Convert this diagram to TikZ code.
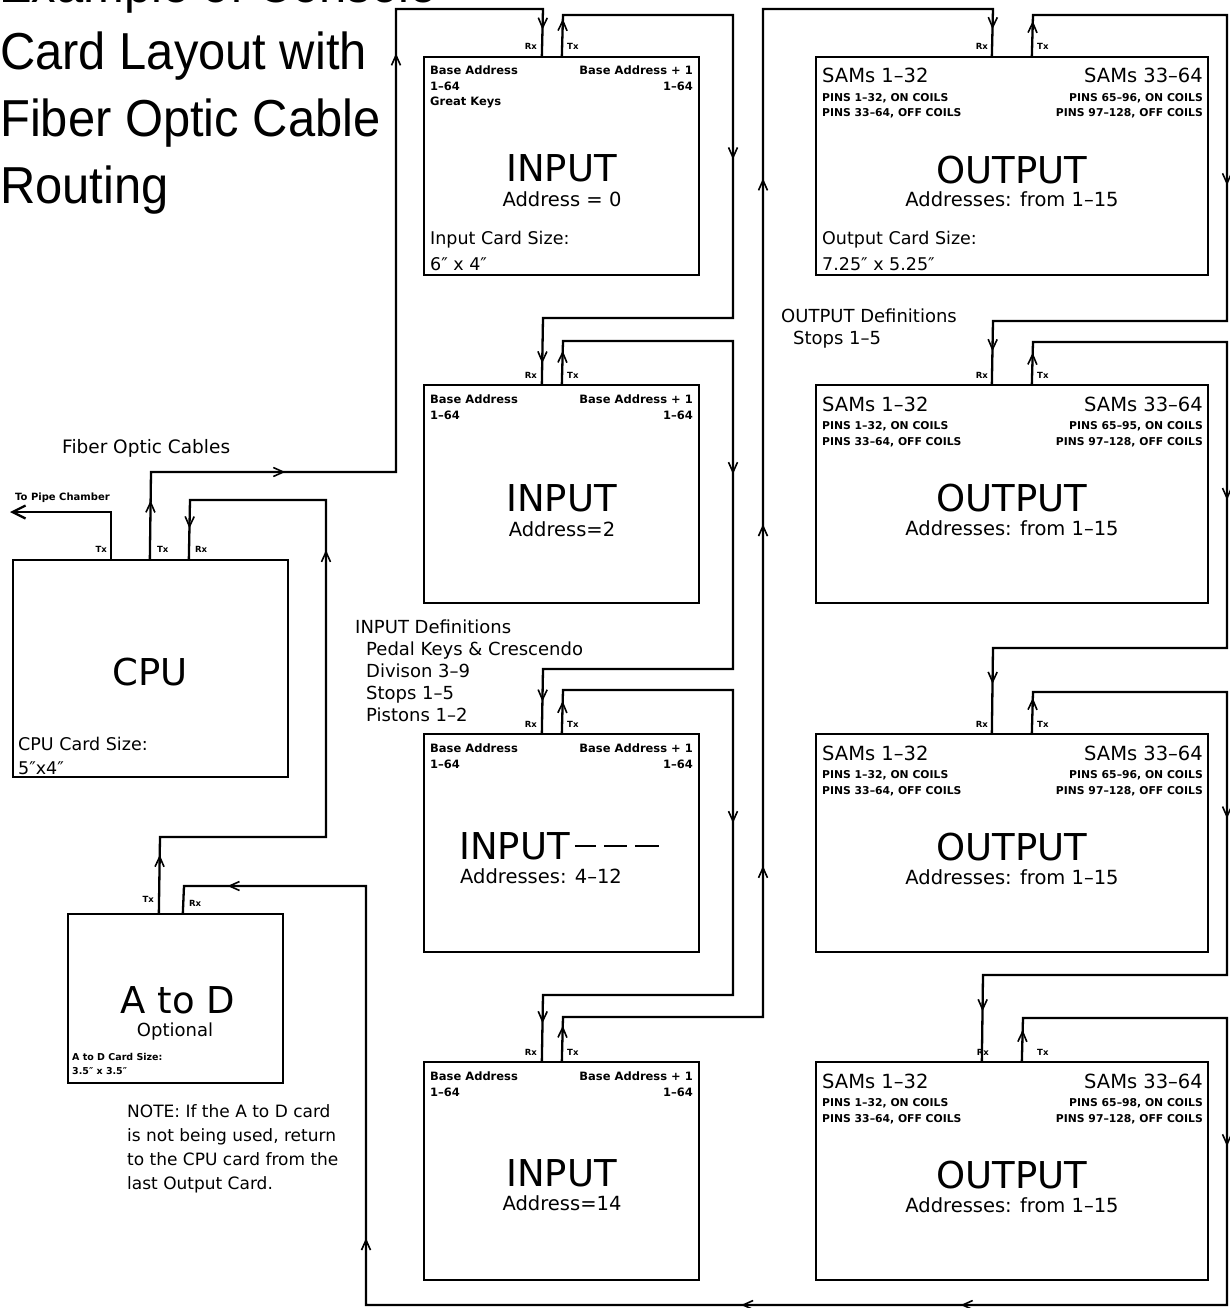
\documentclass[tikz,border=0pt]{standalone}
\usepackage{fontspec}
\setmainfont{DejaVu Sans}
\newfontfamily\titlefont{Liberation Sans}[FakeStretch=0.94]
\usetikzlibrary{arrows.meta}
\newcommand\inch{″}
\newcommand\longdash[1]{\rule[12pt]{#1}{1.6pt}}
\begin{document}
\begin{tikzpicture}[x=1pt,y=-1pt,
  card/.style={draw, line width=2.3pt, rectangle, inner sep=0pt},
  wire/.style={line width=2.3pt},
  ar/.style={pos=#1, sloped, allow upside down},
  arr/.pic={\draw[line width=1.6pt] (-10,4.5) -- (0,0) -- (-10,-4.5);},
  ttl/.style={anchor=base west, inner sep=0pt, font=\titlefont\fontsize{52}{60}\selectfont},
  big/.style={anchor=base, inner sep=0pt, font=\fontsize{37}{40}\selectfont},
  mid/.style={inner sep=0pt, font=\fontsize{19.5}{23}\selectfont},
  lab/.style={inner sep=0pt, anchor=base west, font=\fontsize{17.5}{21}\selectfont},
  sml/.style={inner sep=0pt, font=\bfseries\fontsize{11.5}{13}\selectfont},
  pin/.style={inner sep=0pt, font=\bfseries\fontsize{10.8}{13}\selectfont},
  tny/.style={inner sep=0pt, font=\bfseries\fontsize{8.5}{10}\selectfont},
  defs/.style={inner sep=0pt, anchor=base west, font=\fontsize{18}{22}\selectfont}
]
\useasboundingbox (0,0) rectangle (1230,1308);

% ---------- title ----------
\node[ttl] (t1) at (-1,3) {Example of Console};
\node[ttl] (t2) at (0,70) {Card Layout with};
\node[ttl] (t3) at (0,137) {Fiber Optic Cable};
\node[ttl] (t4) at (0,204) {Routing};

% ---------- cards ----------
\node[card, minimum width=275pt, minimum height=218pt] (I1) at (561.5,166) {};
\node[card, minimum width=275pt, minimum height=218pt] (I2) at (561.5,494) {};
\node[card, minimum width=275pt, minimum height=218pt] (I3) at (561.5,843) {};
\node[card, minimum width=275pt, minimum height=218pt] (I4) at (561.5,1171) {};
\node[card, minimum width=392pt, minimum height=218pt] (O1) at (1012,166) {};
\node[card, minimum width=392pt, minimum height=218pt] (O2) at (1012,494) {};
\node[card, minimum width=392pt, minimum height=218pt] (O3) at (1012,843) {};
\node[card, minimum width=392pt, minimum height=218pt] (O4) at (1012,1171) {};
\node[card, minimum width=275pt, minimum height=217pt] (CPU) at (150.5,668.5) {};
\node[card, minimum width=215pt, minimum height=169pt] (AD) at (175.5,998.5) {};

% ---------- ports ----------
\foreach \c in {I1,I2,I3,I4} {
  \path (\c.north west) ++(119,0) coordinate (\c rx) ++(20,0) coordinate (\c tx);
}
\foreach \c in {O1,O2,O3} {
  \path (\c.north west) ++(177,0) coordinate (\c rx) ++(40,0) coordinate (\c tx);
}
\path (O4.north west) ++(167,0) coordinate (O4rx) ++(40,0) coordinate (O4tx);
\path (CPU.north west) ++(99,0) coordinate (CPUp) ++(39,0) coordinate (CPUt) ++(39,0) coordinate (CPUr);
\path (AD.north west) ++(92,0) coordinate (ADtx) ++(24,0) coordinate (ADrx);
\coordinate (pipe) at (10,512);

% ---------- connectors ----------
\draw[wire, -{Straight Barb[length=13pt,width=13pt]}] (CPUp) |- (pipe);
\draw[wire] (CPUt) -- pic[ar=.65]{arr} (151,472) -- pic[ar=.54]{arr} (396,472)
  -- pic[ar=.9]{arr} (396,9) -- (543,9) -- pic[ar=.4]{arr} (I1rx);
\draw[wire] (I1tx) -- pic[ar=.86]{arr} (563,15) -- (733,15) -- pic[ar=.47]{arr} (733,318)
  -- (543,318) -- pic[ar=.66]{arr} (I2rx);
\draw[wire] (I2tx) -- pic[ar=.73]{arr} (563,341) -- (733,341) -- pic[ar=.40]{arr} (733,669)
  -- (543,669) -- pic[ar=.48]{arr} (I3rx);
\draw[wire] (I3tx) -- pic[ar=.70]{arr} (563,690) -- (733,690) -- pic[ar=.43]{arr} (733,995)
  -- (543,995) -- pic[ar=.40]{arr} (I4rx);
\draw[wire] (I4tx) -- pic[ar=.76]{arr} (563,1017) -- (763,1017)
  -- pic[ar=.148]{arr} pic[ar=.487]{arr} pic[ar=.83]{arr} (763,9)
  -- (993,9) -- pic[ar=.39]{arr} (O1rx);
\draw[wire] (O1tx) -- pic[ar=.81]{arr} (1033,15) -- (1227,15) -- pic[ar=.55]{arr} (1227,321)
  -- (993,321) -- pic[ar=.45]{arr} (O2rx);
\draw[wire] (O2tx) -- pic[ar=.70]{arr} (1033,342) -- (1227,342) -- pic[ar=.51]{arr} (1227,648)
  -- (993,648) -- pic[ar=.40]{arr} (O3rx);
\draw[wire] (O3tx) -- pic[ar=.81]{arr} (1033,692) -- (1227,692) -- pic[ar=.44]{arr} (1227,975)
  -- (983,975) -- pic[ar=.40]{arr} (O4rx);
\draw[wire] (O4tx) -- pic[ar=.68]{arr} (1023,1018) -- (1227,1018) -- pic[ar=.44]{arr} (1227,1305)
  -- pic[ar=.307]{arr} pic[ar=.562]{arr} (366,1305)
  -- pic[ar=.155]{arr} (366,886) -- pic[ar=.75]{arr} (184,886) -- (ADrx);
\draw[wire] (ADtx) -- pic[ar=.74]{arr} (160,837) -- (326,837) -- pic[ar=.846]{arr} (326,500)
  -- (190,500) -- pic[ar=.45]{arr} (CPUr);

% ---------- port labels ----------
\foreach \c/\t in {I1/57,I2/385,I3/734,I4/1062} {
  \node[tny, anchor=base east] (\c Rl) at (537,\t-7) {Rx};
  \node[tny, anchor=base west] (\c Tl) at (567,\t-7) {Tx};
}
\foreach \c/\t in {O1/57,O2/385,O3/734} {
  \node[tny, anchor=base east] (\c Rl) at (988,\t-7) {Rx};
  \node[tny, anchor=base west] (\c Tl) at (1037,\t-7) {Tx};
}
\node[tny, anchor=base east] (O4Rl) at (989,1055) {Rx};
\node[tny, anchor=base west] (O4Tl) at (1037,1055) {Tx};
\node[tny, anchor=base east] (CPUpl) at (107,552) {Tx};
\node[tny, anchor=base west] (CPUtl) at (157,552) {Tx};
\node[tny, anchor=base west] (CPUrl) at (195,552) {Rx};
\node[tny, anchor=base east] (ADtl) at (154,902) {Tx};
\node[tny, anchor=base west] (ADrl) at (189,906) {Rx};

% ---------- input card texts ----------
\foreach \c/\t in {I1/57,I2/385,I3/734,I4/1062} {
  \node[sml, anchor=base west] (\c a) at (430,\t+18) {Base Address};
  \node[sml, anchor=base west] (\c b) at (430,\t+34) {1–64};
  \node[sml, anchor=base east] (\c c) at (693,\t+18) {Base Address + 1};
  \node[sml, anchor=base east] (\c d) at (693,\t+34) {1–64};
}
\node[sml, anchor=base west] (I1e) at (430,106) {Great Keys};
\node[lab] (I1f) at (430,244) {Input Card Size:};
\node[lab] (I1g) at (430,270) {6\inch{} x 4\inch};
\node[big] (I1n) at (561.5,182) {INPUT};
\node[mid, anchor=base] (I1m) at (562,206) {Address = 0};
\node[big] (I2n) at (561.5,511) {INPUT};
\node[mid, anchor=base] (I2m) at (562,536) {Address=2};
\node[big, anchor=base west] (I3n) at (459,859) {INPUT\kern5pt\longdash{21pt}\kern8pt\longdash{23pt}\kern8pt\longdash{24pt}};
\node[mid, anchor=base west] (I3m) at (460,883) {Addresses: 4–12};
\node[big] (I4n) at (561.5,1186) {INPUT};
\node[mid, anchor=base] (I4m) at (562,1210) {Address=14};

% ---------- output card texts ----------
\foreach \c/\t/\r in {O1/57/65–96,O2/385/65–95,O3/734/65–96,O4/1062/65–98} {
  \node[mid, anchor=base west] (\c a) at (822,\t+26) {SAMs 1–32};
  \node[mid, anchor=base east] (\c b) at (1203,\t+26) {SAMs 33–64};
  \node[pin, anchor=base west] (\c c) at (822,\t+44.5) {PINS 1–32, ON COILS};
  \node[pin, anchor=base west] (\c d) at (822,\t+60) {PINS 33–64, OFF COILS};
  \node[pin, anchor=base east] (\c e) at (1203,\t+44.5) {PINS \r, ON COILS};
  \node[pin, anchor=base east] (\c f) at (1203,\t+60) {PINS 97–128, OFF COILS};
  \node[big] (\c n) at (1012,\t+126) {OUTPUT};
  \node[mid, anchor=base] (\c m) at (1012,\t+150) {Addresses: from 1–15};
}
\node[lab] (O1g) at (822,244) {Output Card Size:};
\node[lab] (O1h) at (822,270) {7.25\inch{} x 5.25\inch};

% ---------- CPU / A to D texts ----------
\node[big] (CPUn) at (150,685) {CPU};
\node[lab] (CPUs) at (18,750) {CPU Card Size:};
\node[lab] (CPUd) at (18,774) {5\inch{}x4\inch};
\node[big] (ADn) at (178,1013) {A to D};
\node[inner sep=0pt, anchor=base, font=\fontsize{18}{21}\selectfont] (ADo) at (175,1036) {Optional};
\node[tny, anchor=base west, font=\bfseries\fontsize{9.5}{11}\selectfont] (ADs) at (72,1060) {A to D Card Size:};
\node[tny, anchor=base west, font=\bfseries\fontsize{9.5}{11}\selectfont] (ADd) at (72,1074) {3.5\inch{} x 3.5\inch};

% ---------- free labels ----------
\node[inner sep=0pt, anchor=base west, font=\fontsize{18.5}{22}\selectfont] (fib) at (62,453) {Fiber Optic Cables};
\node[tny, anchor=base west, font=\bfseries\fontsize{10}{12}\selectfont] (tpc) at (15,500) {To Pipe Chamber};

\node[defs] (id0) at (355,633) {INPUT Definitions};
\node[defs] (id1) at (366,655) {Pedal Keys \& Crescendo};
\node[defs] (id2) at (366,677) {Divison 3–9};
\node[defs] (id3) at (366,699) {Stops 1–5};
\node[defs] (id4) at (366,721) {Pistons 1–2};

\node[defs] (od0) at (781,322) {OUTPUT Definitions};
\node[defs] (od1) at (793,344) {Stops 1–5};

\node[inner sep=0pt, anchor=base west, font=\fontsize{17}{20}\selectfont] (n1) at (127,1117) {NOTE: If the A to D card};
\node[inner sep=0pt, anchor=base west, font=\fontsize{17}{20}\selectfont] (n2) at (127,1141) {is not being used, return};
\node[inner sep=0pt, anchor=base west, font=\fontsize{17}{20}\selectfont] (n3) at (127,1165) {to the CPU card from the};
\node[inner sep=0pt, anchor=base west, font=\fontsize{17}{20}\selectfont] (n4) at (127,1189) {last Output Card.};
\end{tikzpicture}
\end{document}
